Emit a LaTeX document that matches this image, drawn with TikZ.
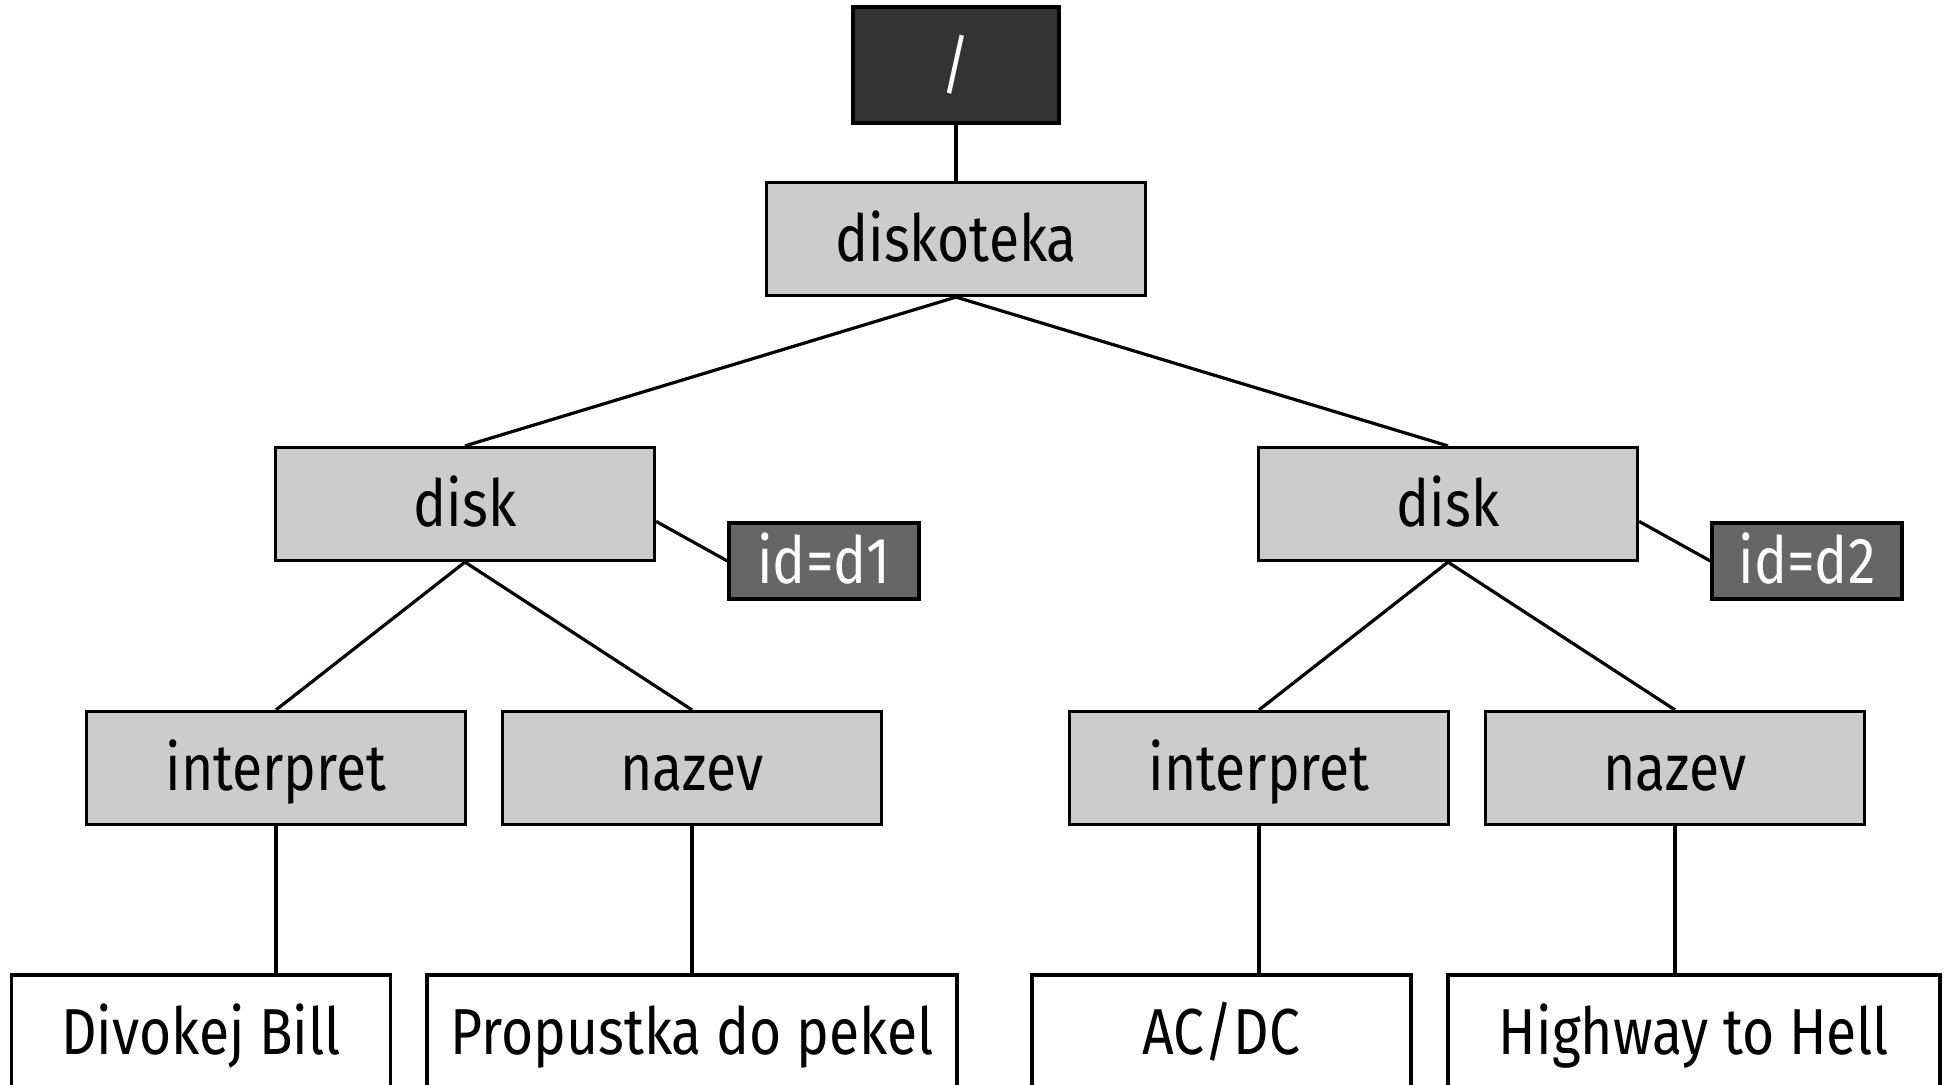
\documentclass[tikz,border=0pt]{standalone}
\usepackage{fontspec}
\setmainfont{Fira Sans}[FakeStretch=0.85]
\begin{document}
\begin{tikzpicture}[x=0.5pt,y=-0.5pt,
  box/.style={draw=black,line width=1.6pt,minimum width=189.5pt,minimum height=56.5pt,inner sep=0pt,text height=26pt,text depth=3.3pt,font=\fontsize{32.5}{36}\selectfont},
  graybox/.style={box,fill=gray80},
  leafbox/.style={box,fill=white},
  rootbox/.style={box,fill=dark33,text=white,minimum width=103pt,minimum height=58pt},
  idbox/.style={box,fill=gray66,text=white,minimum width=95pt,minimum height=38pt},
  conn/.style={draw=black,line width=1.6pt}]
\definecolor{gray80}{HTML}{CCCCCC}
\definecolor{dark33}{HTML}{333333}
\definecolor{gray66}{HTML}{666666}
\useasboundingbox (0,0) rectangle (1946,1085);
\node[rootbox] (root) at (956,65) {/};
\node[graybox] (disko) at (956,239) {diskoteka};
\node[graybox] (diskA) at (465,504) {disk};
\node[graybox] (diskB) at (1448,504) {disk};
\node[idbox] (idA) at (824,561) {id=d1};
\node[idbox] (idB) at (1807,561) {id=d2};
\node[graybox] (intA) at (276,768) {interpret};
\node[graybox] (nazA) at (692,768) {nazev};
\node[graybox] (intB) at (1259,768) {interpret};
\node[graybox] (nazB) at (1675,768) {nazev};
\node[leafbox] (valA) at (201,1031.5) {Divokej Bill};
\node[leafbox,minimum width=265pt] (valB) at (692,1031.5) {Propustka do pekel};
\node[leafbox] (valC) at (1221.5,1031.5) {AC/DC};
\node[leafbox,minimum width=246pt] (valD) at (1694,1031.5) {Highway to Hell};
\draw[conn] (root.south) -- (disko.north);
\draw[conn] (disko.south) -- (diskA.north);
\draw[conn] (disko.south) -- (diskB.north);
\draw[conn] (diskA.east |- idA.north) -- (idA.west);
\draw[conn] (diskB.east |- idB.north) -- (idB.west);
\draw[conn] (diskA.south) -- (intA.north);
\draw[conn] (diskA.south) -- (nazA.north);
\draw[conn] (diskB.south) -- (intB.north);
\draw[conn] (diskB.south) -- (nazB.north);
\draw[conn] (intA.south) -- (intA.south |- valA.north);
\draw[conn] (nazA.south) -- (nazA.south |- valB.north);
\draw[conn] (intB.south) -- (intB.south |- valC.north);
\draw[conn] (nazB.south) -- (nazB.south |- valD.north);
\end{tikzpicture}
\end{document}
